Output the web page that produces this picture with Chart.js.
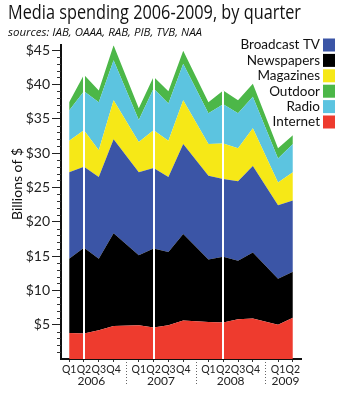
<!DOCTYPE html>
<html>
<head>
<meta charset="utf-8">
<script src="https://cdn.jsdelivr.net/npm/chart.js@4.4.1/dist/chart.umd.min.js"></script>
<style>
  html, body { margin: 0; padding: 0; background: #fff; }
</style>
</head>
<body>
<canvas id="mediaChart" width="348" height="400"></canvas>
<script>
const FONT = "Lato, 'Open Sans', sans-serif";
const WIDE_FONT = "'Open Sans', Lato, sans-serif";

// x axis: quarters, grouped by year (2009 only has two so far)
const years = ["2006", "2007", "2008", "2009"];
const quarterNames = ["Q1", "Q2", "Q3", "Q4", "Q1", "Q2", "Q3", "Q4", "Q1", "Q2", "Q3", "Q4", "Q1", "Q2"];
const quarterYear = [0, 0, 0, 0, 1, 1, 1, 1, 2, 2, 2, 2, 3, 3];
const quarterInYear = [0, 1, 2, 3, 0, 1, 2, 3, 0, 1, 2, 3, 0, 1];

// spending per quarter, billions of $ (Q1 2006 .. Q2 2009)
const internet    = [3.8, 3.7, 4.2, 4.8, 4.9, 4.6, 4.9, 5.6, 5.4, 5.3, 5.8, 5.9, 5.0, 6.0];
const newspapers  = [10.8, 12.5, 10.4, 13.5, 10.2, 11.5, 10.7, 12.6, 9.1, 9.6, 8.5, 9.6, 6.7, 6.7];
const broadcastTV = [12.6, 11.8, 11.9, 13.7, 12.1, 11.7, 10.9, 13.1, 12.2, 11.3, 11.6, 12.6, 10.7, 10.4];
const magazines   = [4.6, 5.3, 3.9, 5.7, 4.4, 5.5, 5.3, 6.4, 4.6, 5.2, 4.8, 5.5, 3.3, 4.1];
const radio       = [4.4, 5.7, 7.0, 5.8, 3.2, 6.1, 5.4, 5.3, 4.5, 5.7, 5.1, 4.6, 3.5, 4.1];
const outdoor     = [1.2, 2.4, 1.7, 2.2, 1.7, 1.7, 1.8, 1.9, 1.6, 2.0, 1.9, 1.9, 1.5, 1.3];

// y axis labels
const yTicks = [5, 10, 15, 20, 25, 30, 35, 40, 45];

// legend order as printed on the chart
const legendItems = [
  { label: "Broadcast TV", color: "#3b55a6" },
  { label: "Newspapers", color: "#000000" },
  { label: "Magazines", color: "#f6e817" },
  { label: "Outdoor", color: "#4cb748" },
  { label: "Radio", color: "#5cc4e0" },
  { label: "Internet", color: "#ee3b2e" },
];

const colorOf = (name) => legendItems.find((it) => it.label === name).color;

// horizontal spacing: one unit per quarter, plus a wider step between years
const YEAR_STEP = 4.7;
const xPos = quarterNames.map((q, i) => quarterYear[i] * YEAR_STEP + quarterInYear[i]);

function points(values) {
  return values.map((v, i) => ({ x: xPos[i], y: v }));
}

function layer(label, values, fill) {
  return {
    label: label,
    data: points(values),
    backgroundColor: colorOf(label),
    borderWidth: 0,
    pointRadius: 0,
    tension: 0,
    fill: fill,
  };
}

// stacked from the bottom up
const datasets = [
  layer("Internet", internet, "origin"),
  layer("Newspapers", newspapers, "-1"),
  layer("Broadcast TV", broadcastTV, "-1"),
  layer("Magazines", magazines, "-1"),
  layer("Radio", radio, "-1"),
  layer("Outdoor", outdoor, "-1"),
];

/******************** extra drawing: dividers, minor ticks, years, axis title, legend ********************/
const decorPlugin = {
  id: "decor",
  afterDatasetsDraw(chart) {
    const { ctx, scales } = chart;
    const x = scales.x, y = scales.y;
    ctx.save();
    ctx.strokeStyle = "#ffffff";
    ctx.lineWidth = 2;
    // white line at Q2 of each full year
    quarterNames.forEach((q, i) => {
      if (q !== "Q2" || i === quarterNames.length - 1) return;
      const total = internet[i] + newspapers[i] + broadcastTV[i] + magazines[i] + radio[i] + outdoor[i];
      const px = Math.round(x.getPixelForValue(xPos[i]));
      ctx.beginPath();
      ctx.moveTo(px, y.getPixelForValue(0));
      ctx.lineTo(px, y.getPixelForValue(total));
      ctx.stroke();
    });
    ctx.restore();
  },
  afterDraw(chart) {
    const { ctx, scales, chartArea } = chart;
    const x = scales.x, y = scales.y;
    ctx.save();

    // minor ticks every $1
    ctx.strokeStyle = "#333";
    ctx.lineWidth = 1;
    for (let v = 1; v <= 45; v++) {
      if (v % 5 === 0) continue;
      const py = Math.round(y.getPixelForValue(v)) + 0.5;
      ctx.beginPath();
      ctx.moveTo(chartArea.left - 4, py);
      ctx.lineTo(chartArea.left, py);
      ctx.stroke();
    }

    // year labels and dotted separators under the quarter labels
    ctx.fillStyle = "#222";
    ctx.font = "12px " + FONT;
    ctx.textAlign = "center";
    ctx.textBaseline = "middle";
    years.forEach((yr, yi) => {
      const idx = xPos.map((p, i) => i).filter((i) => quarterYear[i] === yi);
      const first = x.getPixelForValue(xPos[idx[0]]);
      const last = x.getPixelForValue(xPos[idx[idx.length - 1]]);
      ctx.fillText(yr, (first + last) / 2, chartArea.bottom + 22);
      if (yi < years.length - 1) {
        const next = x.getPixelForValue(xPos[idx[idx.length - 1] + 1]);
        const sx = Math.round((last + next) / 2) + 0.5;
        ctx.save();
        ctx.strokeStyle = "#666";
        ctx.setLineDash([1, 2]);
        ctx.beginPath();
        ctx.moveTo(sx, chartArea.bottom + 3);
        ctx.lineTo(sx, chartArea.bottom + 26);
        ctx.stroke();
        ctx.restore();
      }
    });

    // y axis title
    ctx.save();
    ctx.translate(17, 184);
    ctx.rotate(-Math.PI / 2);
    ctx.font = "14px " + FONT;
    ctx.fillStyle = "#111";
    ctx.fillText("Billions of $", 0, 0);
    ctx.restore();

    // legend, right aligned, swatch after the text
    ctx.font = "13.5px " + FONT;
    ctx.textAlign = "right";
    ctx.textBaseline = "middle";
    legendItems.forEach((it, i) => {
      const cy = 45 + i * 15.4;
      ctx.fillStyle = "#111";
      ctx.fillText(it.label, 320, cy);
      ctx.fillStyle = it.color;
      ctx.fillRect(323, cy - 6.5, 12, 13);
    });

    ctx.restore();
  },
};

new Chart(document.getElementById("mediaChart"), {
  type: "line",
  data: { datasets: datasets },
  plugins: [decorPlugin],
  options: {
    responsive: false,
    animation: false,
    devicePixelRatio: 1,
    layout: { autoPadding: false, padding: { left: 8, right: 47, top: 0, bottom: 0 } },
    plugins: {
      legend: { display: false },
      tooltip: { enabled: false },
      title: {
        display: true,
        text: "Media spending 2006-2009, by quarter",
        align: "start",
        color: "#111",
        font: { family: WIDE_FONT, size: 19.5, weight: "normal", lineHeight: 1.2 },
        padding: { top: 2, bottom: 0 },
      },
      subtitle: {
        display: true,
        text: "sources: IAB, OAAA, RAB, PIB, TVB, NAA",
        align: "start",
        color: "#111",
        font: { family: WIDE_FONT, size: 11.5, style: "italic", lineHeight: 1.2 },
        padding: { top: 0, bottom: 6 },
      },
    },
    scales: {
      x: {
        type: "linear",
        min: -0.55,
        max: xPos[xPos.length - 1] + 0.55,
        afterFit: (s) => { s.height = 41; },
        afterBuildTicks: (s) => { s.ticks = xPos.map((v) => ({ value: v })); },
        border: { display: true, color: "#111", width: 2 },
        grid: { drawOnChartArea: false, drawTicks: true, tickLength: 3, color: "#333" },
        ticks: {
          autoSkip: false,
          maxRotation: 0,
          padding: 1,
          color: "#222",
          font: { family: FONT, size: 10.5 },
          callback: (val, idx) => quarterNames[idx],
        },
      },
      y: {
        stacked: true,
        min: 0,
        max: 45.7,
        afterFit: (s) => { s.width = 53; },
        afterBuildTicks: (s) => { s.ticks = yTicks.map((v) => ({ value: v })); },
        border: { display: true, color: "#111", width: 2 },
        grid: { drawOnChartArea: false, drawTicks: true, tickLength: 9, color: "#222" },
        ticks: {
          padding: 2,
          color: "#222",
          font: { family: FONT, size: 14 },
          callback: (val) => "$" + val,
        },
      },
    },
  },
});
</script>
</body>
</html>
